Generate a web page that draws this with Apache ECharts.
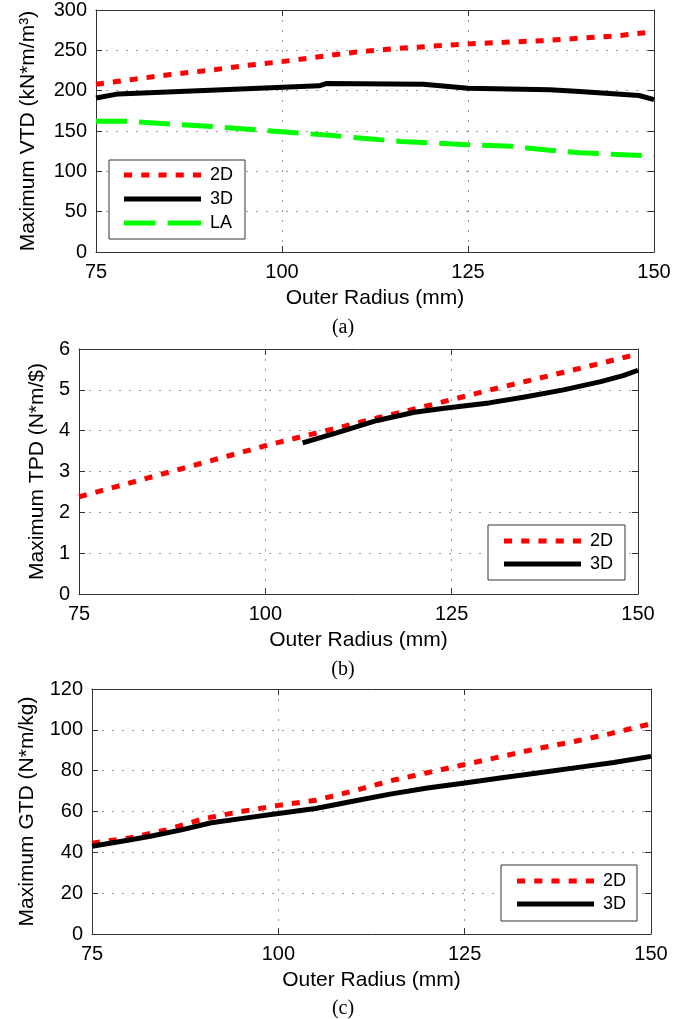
<!DOCTYPE html>
<html>
<head>
<meta charset="utf-8">
<script src="https://cdn.jsdelivr.net/npm/echarts@6/dist/echarts.min.js"></script>
<style>
html,body{margin:0;padding:0;background:#fff;}
#chart{width:695px;height:1019px;}
</style>
</head>
<body>
<div id="chart"></div>
<script>
// ---------- Data ----------
// (a) Maximum VTD
const vtdRadius2D = [75, 80, 85, 90, 95, 100, 105, 110, 115, 120, 125, 130, 135, 140, 145, 150];
const vtd2D       = [208, 214, 220, 225, 231, 236, 242, 248, 252, 255, 258, 260, 262, 265, 268, 273];
const vtdRadius3D = [75, 78, 92, 105, 106, 119, 125, 136, 140, 148, 150];
const vtd3D       = [191, 196, 201, 206, 209, 208, 203, 201, 199, 194, 189];
const vtdRadiusLA = [75, 79, 90, 100, 106, 112, 116, 125, 131, 136, 140, 150];
const vtdLA       = [162, 162, 156, 149, 145, 140, 137, 133, 131, 126, 123, 119];

// (b) Maximum TPD
const tpdRadius2D = [75, 80, 85, 90, 95, 100, 105, 110, 115, 120, 125, 130, 135, 140, 145, 150];
const tpd2D       = [2.38, 2.63, 2.88, 3.13, 3.38, 3.63, 3.86, 4.08, 4.31, 4.53, 4.76, 4.99, 5.21, 5.43, 5.65, 5.88];
const tpdRadius3D = [105, 110, 115, 120, 124, 130, 135, 140, 145, 148, 150];
const tpd3D       = [3.70, 3.97, 4.25, 4.45, 4.55, 4.68, 4.83, 5.00, 5.20, 5.35, 5.48];

// (c) Maximum GTD
const gtdRadius2D = [75, 80, 85, 90, 95, 100, 105, 110, 115, 120, 125, 130, 135, 140, 145, 150];
const gtd2D       = [44.5, 47, 51, 56.5, 60, 63, 65.5, 70, 75, 79, 83, 87, 91, 94.5, 98.5, 103];
const gtdRadius3D = [75, 80, 83, 87, 91, 95, 100, 105, 110, 115, 120, 125, 130, 135, 140, 145, 150];
const gtd3D       = [43, 46, 48, 51, 54.5, 56.5, 59, 61.5, 65, 68.5, 71.5, 74, 76.5, 79, 81.5, 84, 87];

// Axis settings
const xRange = { min: 75, max: 150, interval: 25 };
const yRanges = [
  { min: 0, max: 300, interval: 50 },
  { min: 0, max: 6, interval: 1 },
  { min: 0, max: 120, interval: 20 }
];
const xTitle = 'Outer Radius (mm)';
const yTitles = ['Maximum VTD (kN*m/m³)', 'Maximum TPD (N*m/$)', 'Maximum GTD (N*m/kg)'];
const captions = ['(a)', '(b)', '(c)'];

// ---------- Styling / layout ----------
const SANS = '"Liberation Sans", Arial, Helvetica, sans-serif';
const SERIF = '"Liberation Serif", "Times New Roman", serif';
const FRAME = '#333';
const grids = [
  { left: 96, top: 6, width: 558, height: 246 },
  { left: 79, top: 349, width: 559, height: 245 },
  { left: 92, top: 689, width: 559, height: 245 }
];
const yNameGaps = [57, 31, 54];
const captionY = [327.5, 669.5, 1009];

const zip = (xs, ys) => xs.map((x, i) => [x, ys[i]]);

const styles = {
  '2D': { color: '#ff0000', type: [8, 9],
          icon: 'path://M0,0h8v5h-8z M17,0h8v5h-8z M34,0h8v5h-8z M51,0h8v5h-8z M68,0h8v5h-8z' },
  '3D': { color: '#000000', type: 'solid', icon: 'path://M0,0h76v5h-76z' },
  'LA': { color: '#00ff00', type: [31, 12], icon: 'path://M0,0h31v5h-31z M43,0h33v5h-33z' }
};

function mkSeries(name, gi, data) {
  const s = styles[name];
  return {
    name, type: 'line', xAxisIndex: gi * 2, yAxisIndex: gi * 2,
    data, symbol: 'none', showSymbol: false, animation: false,
    color: s.color, clip: true, z: 3,
    itemStyle: { color: s.color },
    lineStyle: { color: s.color, width: 5, type: s.type, cap: 'butt', join: 'round' }
  };
}

const xAxes = [], yAxes = [];
grids.forEach((g, i) => {
  xAxes.push({
    gridIndex: i, type: 'value', position: 'bottom', ...xRange,
    name: xTitle, nameLocation: 'middle', nameGap: 36,
    nameTextStyle: { fontSize: 21, color: '#000', fontFamily: SANS },
    axisLine: { show: true, onZero: false, lineStyle: { color: FRAME, width: 1 } },
    axisTick: { show: true, inside: true, length: 6, lineStyle: { color: FRAME } },
    axisLabel: { margin: 10, fontSize: 20, color: '#000', fontFamily: SANS },
    splitLine: { show: true, lineStyle: { color: '#999', width: 1, type: [2, 8] } }
  });
  xAxes.push({
    gridIndex: i, type: 'value', position: 'top', ...xRange,
    axisLine: { show: true, onZero: false, lineStyle: { color: FRAME, width: 1 } },
    axisTick: { show: true, inside: true, length: 6, lineStyle: { color: FRAME } },
    axisLabel: { show: false }, splitLine: { show: false }
  });
  yAxes.push({
    gridIndex: i, type: 'value', position: 'left', ...yRanges[i],
    name: yTitles[i], nameLocation: 'middle', nameGap: yNameGaps[i],
    nameTextStyle: { fontSize: 21, color: '#000', fontFamily: SANS },
    axisLine: { show: true, onZero: false, lineStyle: { color: FRAME, width: 1 } },
    axisTick: { show: true, inside: true, length: 6, lineStyle: { color: FRAME } },
    axisLabel: { margin: 9, fontSize: 20, color: '#000', fontFamily: SANS },
    splitLine: { show: true, lineStyle: { color: '#999', width: 1, type: [2, 8] } }
  });
  yAxes.push({
    gridIndex: i, type: 'value', position: 'right', ...yRanges[i],
    axisLine: { show: true, onZero: false, lineStyle: { color: FRAME, width: 1 } },
    axisTick: { show: true, inside: true, length: 6, lineStyle: { color: FRAME } },
    axisLabel: { show: false }, splitLine: { show: false }
  });
});

function mkLegend(names, left, top, padding, gap) {
  return {
    data: names.map(n => ({ name: n, icon: styles[n].icon, itemStyle: { color: styles[n].color, borderWidth: 0 } })),
    orient: 'vertical', left, top, padding, itemGap: gap,
    itemWidth: 77, itemHeight: 5, selectedMode: false, symbolKeepAspect: false,
    borderColor: FRAME, borderWidth: 1, backgroundColor: '#fff',
    textStyle: { fontSize: 18, color: '#000', fontFamily: SANS, padding: [0, 0, 0, 4] },
    z: 10
  };
}

const option = {
  animation: false,
  backgroundColor: '#fff',
  grid: grids,
  xAxis: xAxes,
  yAxis: yAxes,
  legend: [
    mkLegend(['2D', '3D', 'LA'], 109, 160, [6, 12, 7, 15], 6),
    mkLegend(['2D', '3D'], 488, 525, [7, 12, 7, 16], 5),
    mkLegend(['2D', '3D'], 501, 865, [7, 11, 8, 16], 5)
  ],
  graphic: captions.map((c, i) => ({
    type: 'text', x: 343, y: captionY[i],
    style: { text: c, fontSize: 20, fontFamily: SERIF, fill: '#000', align: 'center', verticalAlign: 'middle' }
  })),
  series: [
    mkSeries('2D', 0, zip(vtdRadius2D, vtd2D)),
    mkSeries('3D', 0, zip(vtdRadius3D, vtd3D)),
    mkSeries('LA', 0, zip(vtdRadiusLA, vtdLA)),
    mkSeries('2D', 1, zip(tpdRadius2D, tpd2D)),
    mkSeries('3D', 1, zip(tpdRadius3D, tpd3D)),
    mkSeries('2D', 2, zip(gtdRadius2D, gtd2D)),
    mkSeries('3D', 2, zip(gtdRadius3D, gtd3D))
  ]
};

const chart = echarts.init(document.getElementById('chart'), null, { renderer: 'canvas' });
chart.setOption(option);
</script>
</body>
</html>
